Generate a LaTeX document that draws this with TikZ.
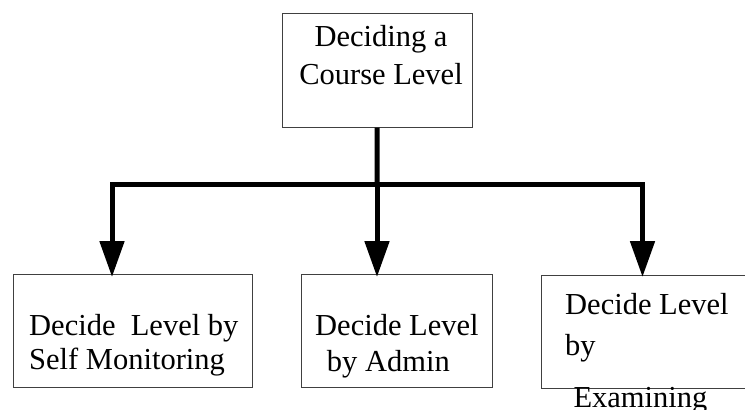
\documentclass[tikz,border=0pt]{standalone}
\usepackage{fontspec}
\setmainfont{Liberation Serif}
\usetikzlibrary{arrows.meta}
\begin{document}
\begin{tikzpicture}[x=1pt,y=-1pt,
  boxstyle/.style={draw=black!75, line width=1pt, rectangle, inner sep=0pt, anchor=north west},
  lbl/.style={inner sep=0pt, font=\fontsize{30.5}{36}\selectfont},
  conn/.style={line width=5pt, line join=miter},
  arr/.style={conn, -{Triangle[length=36pt,width=24pt]}}]
\clip (0,0) rectangle (745,410);
\fill[white] (0,0) rectangle (745,410);
% boxes
\node[boxstyle, minimum width=190pt, minimum height=114pt] (topbox) at (281.7,12.7) {};
\node[boxstyle, minimum width=239.3pt, minimum height=113.3pt] (lbox) at (12.7,274) {};
\node[boxstyle, minimum width=191.3pt, minimum height=113pt] (mbox) at (300.7,274) {};
\node[boxstyle, minimum width=230pt, minimum height=112.7pt] (rbox) at (540.7,275) {};
% texts
\node[lbl, anchor=base] (t1) at (381,46) {Deciding a};
\node[lbl, anchor=base] (t2) at (381,84) {Course Level};
\node[lbl, anchor=base west] (l1) at (29,335) {Decide\ \ Level by};
\node[lbl, anchor=base west] (l2) at (29,369.3) {Self Monitoring};
\node[lbl, anchor=base west] (m1) at (315,335) {Decide Level};
\node[lbl, anchor=base west] (m2) at (326.7,371.5) {by Admin};
\node[lbl, anchor=base west] (r1) at (565,314) {Decide Level};
\node[lbl, anchor=base west] (r2) at (565,355) {by};
\node[lbl, anchor=base west] (r3) at (573.3,407) {Examining};
% connectors
\coordinate (j) at (377,184);
\coordinate (jl) at (112,184);
\coordinate (jr) at (642.5,184);
\coordinate (tipl) at (112,277);
\coordinate (tipm) at (377,277);
\coordinate (tipr) at (642.5,277);
\draw[conn] (topbox.south) -- (j);
\draw[arr] (j) -- (jl) -- (tipl);
\draw[arr] (j) -- (jr) -- (tipr);
\draw[arr] (j) -- (tipm);
\end{tikzpicture}
\end{document}
